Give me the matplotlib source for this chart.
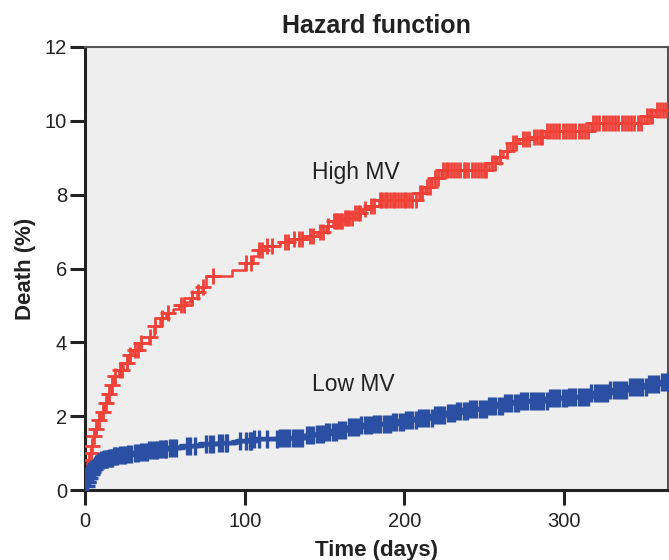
import numpy as np
import matplotlib
matplotlib.use("Agg")
import matplotlib.pyplot as plt

plt.rcParams['font.family'] = ['Liberation Sans', 'DejaVu Sans']

# High MV: event times (days) and cumulative hazard (%)
high_t = [0, 1, 2, 3, 4, 5, 6, 8, 10, 12, 14, 16, 18, 21, 24, 27, 30, 34, 40, 43,
          47, 51, 55, 59, 63, 66, 70, 73, 76, 92, 100, 105, 108, 113, 122, 130, 139, 145, 151, 155,
          162, 168, 174, 178, 184, 209, 213, 217, 223, 253, 258, 262, 266, 272, 280, 288, 317, 350, 357]
high_h = [0, 0.55, 0.8, 1.0, 1.2, 1.45, 1.65, 1.9, 2.1, 2.35, 2.6, 2.85, 3.1, 3.25, 3.45, 3.65, 3.8, 3.98, 4.15, 4.45,
          4.65, 4.8, 4.9, 5.0, 5.1, 5.2, 5.35, 5.5, 5.8, 5.96, 6.15, 6.35, 6.5, 6.6, 6.72, 6.8, 6.88, 7.0, 7.15, 7.3,
          7.38, 7.5, 7.6, 7.7, 7.85, 8.05, 8.2, 8.45, 8.68, 8.86, 9.02, 9.18, 9.4, 9.5, 9.57, 9.72, 9.95, 10.12, 10.3]
high_cens = [1.5, 2.5, 3.5, 4.5, 5.5, 7, 9, 11, 13, 15, 17, 19, 22, 23, 26, 28, 31, 33, 35, 41,
             44, 48, 52, 60, 62, 67, 71, 74, 80, 101, 104, 109, 111, 114, 117, 125, 127, 131, 134, 136,
             141, 143, 147, 149, 152, 156, 157, 158, 159, 160, 161, 163, 164, 165, 167, 169, 171, 172, 175, 179,
             181, 185, 186, 188, 189, 191, 193, 194, 196, 198, 200, 201, 203, 205, 207, 210, 211, 214, 216, 219,
             221, 224, 226, 227, 229, 231, 233, 235, 237, 238, 240, 242, 244, 246, 248, 250, 251, 255, 257, 260,
             264, 268, 270, 274, 276, 278, 281, 283, 285, 286, 289, 291, 293, 295, 297, 299, 301, 303, 305, 307,
             309, 311, 313, 315, 318, 320, 322, 324, 326, 328, 330, 332, 334, 336, 338, 340, 342, 344, 346, 348,
             352, 354, 355, 358, 360, 362, 364]

# Low MV
low_t = [0, 0.5, 1, 2, 3, 4, 5, 6, 7, 8, 10, 12, 15, 18, 22, 26, 30, 35, 40, 46,
         52, 60, 72, 84, 95, 105, 122, 139, 145, 151, 158, 165, 172, 180, 192, 200, 209, 218, 226, 233,
         240, 252, 262, 272, 290, 303, 316, 328, 340, 352, 360]
low_h = [0, 0.1, 0.22, 0.32, 0.42, 0.5, 0.58, 0.64, 0.7, 0.75, 0.8, 0.85, 0.88, 0.92, 0.95, 0.98, 1.0, 1.04, 1.08, 1.12,
         1.15, 1.2, 1.24, 1.28, 1.33, 1.37, 1.42, 1.48, 1.53, 1.58, 1.63, 1.7, 1.75, 1.8, 1.85, 1.9, 1.95, 2.02, 2.08, 2.14,
         2.2, 2.28, 2.36, 2.42, 2.48, 2.52, 2.63, 2.7, 2.78, 2.86, 2.92]
low_cens = [0.5, 1, 1.5, 2, 2.5, 3, 3.5, 4, 4.5, 5, 5.5, 6, 6.5, 7, 7.5, 8, 9, 10, 11, 12,
            13, 14, 15, 16, 17, 18, 19, 20, 22, 24, 25, 27, 29, 31, 33, 35, 37, 39, 40, 42,
            44, 45, 47, 48, 50, 51, 53, 55, 57, 64, 66, 69, 76, 78, 80, 84, 86, 88, 89, 97,
            101, 103, 104, 106, 109, 114, 120, 122, 124, 126, 128, 130, 132, 134, 136, 139, 141, 143, 145, 147,
            149, 151, 153, 155, 157, 159, 161, 163, 165, 167, 169, 171, 173, 175, 177, 179, 181, 183, 185, 187,
            189, 191, 193, 195, 197, 199, 201, 203, 205, 207, 209, 211, 213, 215, 217, 219, 221, 223, 225, 227,
            229, 231, 233, 235, 237, 239, 241, 243, 245, 247, 249, 251, 253, 255, 257, 259, 261, 263, 265, 267,
            269, 271, 273, 275, 277, 279, 281, 283, 285, 287, 289, 291, 293, 295, 297, 299, 301, 303, 305, 307,
            309, 311, 313, 315, 317, 319, 321, 323, 325, 327, 329, 331, 333, 335, 337, 339, 341, 343, 345, 347,
            349, 351, 353, 355, 357, 359, 361, 363, 365]

red = '#ef4138'
blue = '#2a4fa3'
x_end = 365


def step_at(ts, hs, x):
    idx = np.searchsorted(ts, x, side='right') - 1
    return np.asarray(hs)[idx]


fig = plt.figure(figsize=(6.69, 5.6), dpi=100)
ax = fig.add_axes([85 / 669, 70 / 560, 583 / 669, 443 / 560])
ax.set_facecolor('#eeeeee')

for ts, hs, cens, col, lw, ms, mew in [(high_t, high_h, high_cens, red, 1.8, 11, 2.0),
                                       (low_t, low_h, low_cens, blue, 3.2, 12.5, 2.4)]:
    xs = list(ts) + [x_end]
    ys = list(hs) + [hs[-1]]
    ax.plot(xs, ys, drawstyle='steps-post', color=col, lw=lw, zorder=3)
    ax.plot(cens, step_at(ts, hs, cens), ls='none', marker='+', ms=ms,
            mew=mew, color=col, zorder=3)

ax.text(142, 8.6, 'High MV', fontsize=16.5, color='#222222', va='center')
ax.text(142, 2.85, 'Low MV', fontsize=16.5, color='#222222', va='center')

ax.set_xlim(0, x_end)
ax.set_ylim(0, 12)
ax.set_xticks([0, 100, 200, 300])
ax.set_yticks([0, 2, 4, 6, 8, 10, 12])
ax.tick_params(axis='both', direction='out', length=11, width=2.2, color='#222222',
               labelsize=14.5, labelcolor='#222222')
ax.tick_params(axis='x', pad=5)
ax.tick_params(axis='y', pad=2)

for side in ['left', 'bottom']:
    ax.spines[side].set_linewidth(2.2)
    ax.spines[side].set_color('#222222')
for side in ['top', 'right']:
    ax.spines[side].set_linewidth(1.5)
    ax.spines[side].set_color('#555555')

ax.set_title('Hazard function', fontsize=18, fontweight='bold', color='#222222', pad=10)
ax.set_xlabel('Time (days)', fontsize=16, fontweight='bold', color='#222222', labelpad=6)
ax.set_ylabel('Death (%)', fontsize=16, fontweight='bold', color='#222222', labelpad=6)

fig.savefig('out.png', dpi=100)
